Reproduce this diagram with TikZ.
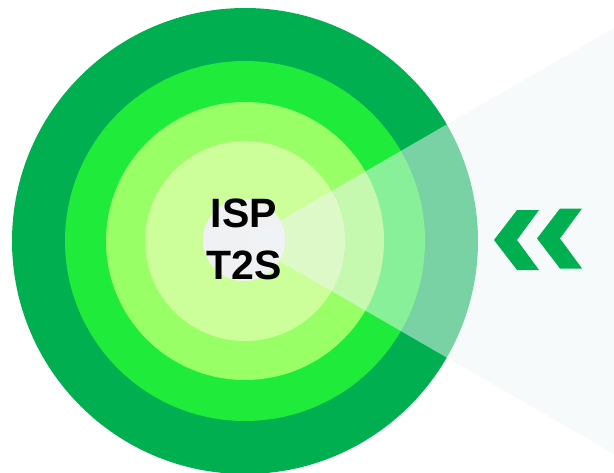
\documentclass[tikz,border=0pt]{standalone}
\usepackage{fontspec}
\setmainfont{Liberation Sans}
\usepackage{xcolor}
\usetikzlibrary{calc}
\tikzset{>=latex}
\definecolor{ringA}{HTML}{00AF50}
\definecolor{ringB}{HTML}{1EEB3A}
\definecolor{ringC}{HTML}{99FF66}
\definecolor{ringD}{HTML}{CCFF99}
\definecolor{core}{HTML}{F0F1F3}
\definecolor{beam}{HTML}{F0F5F8}

\begin{document}
\begin{tikzpicture}[
            x=1pt, y=-1pt,
            beam/.style={fill=beam, fill opacity=0.5},
            chevron/.style={fill=ringA},
            label/.style={font=\fontsize{41}{52}\selectfont\bfseries, align=center, inner sep=0pt}
        ]
        \useasboundingbox (0,0) rectangle (614,472);
        \coordinate (c) at (245,241);
        % rings
        \foreach \r/\col in {233/ringA, 180/ringB, 139/ringC, 100/ringD} {
            \fill[\col] (c) circle (\r);
        }
        \fill[core] (244,240) circle (41);
        % beam
        \fill[beam] (c) -- ($(c)+(405,-234)$) -- ($(c)+(405,234)$) -- cycle;
        \node[label] (name) at (244,239) {ISP\\T2S};
        % chevrons
        \foreach \dx/\dy in {0/0, 43/-1.5} {
            \fill[chevron, shift={(\dx,\dy)}] (494,240) -- (517,210) -- (539,210) -- (517,240) -- (539,270) -- (517,270) -- cycle;
        }
        \end{tikzpicture}
\end{document}
